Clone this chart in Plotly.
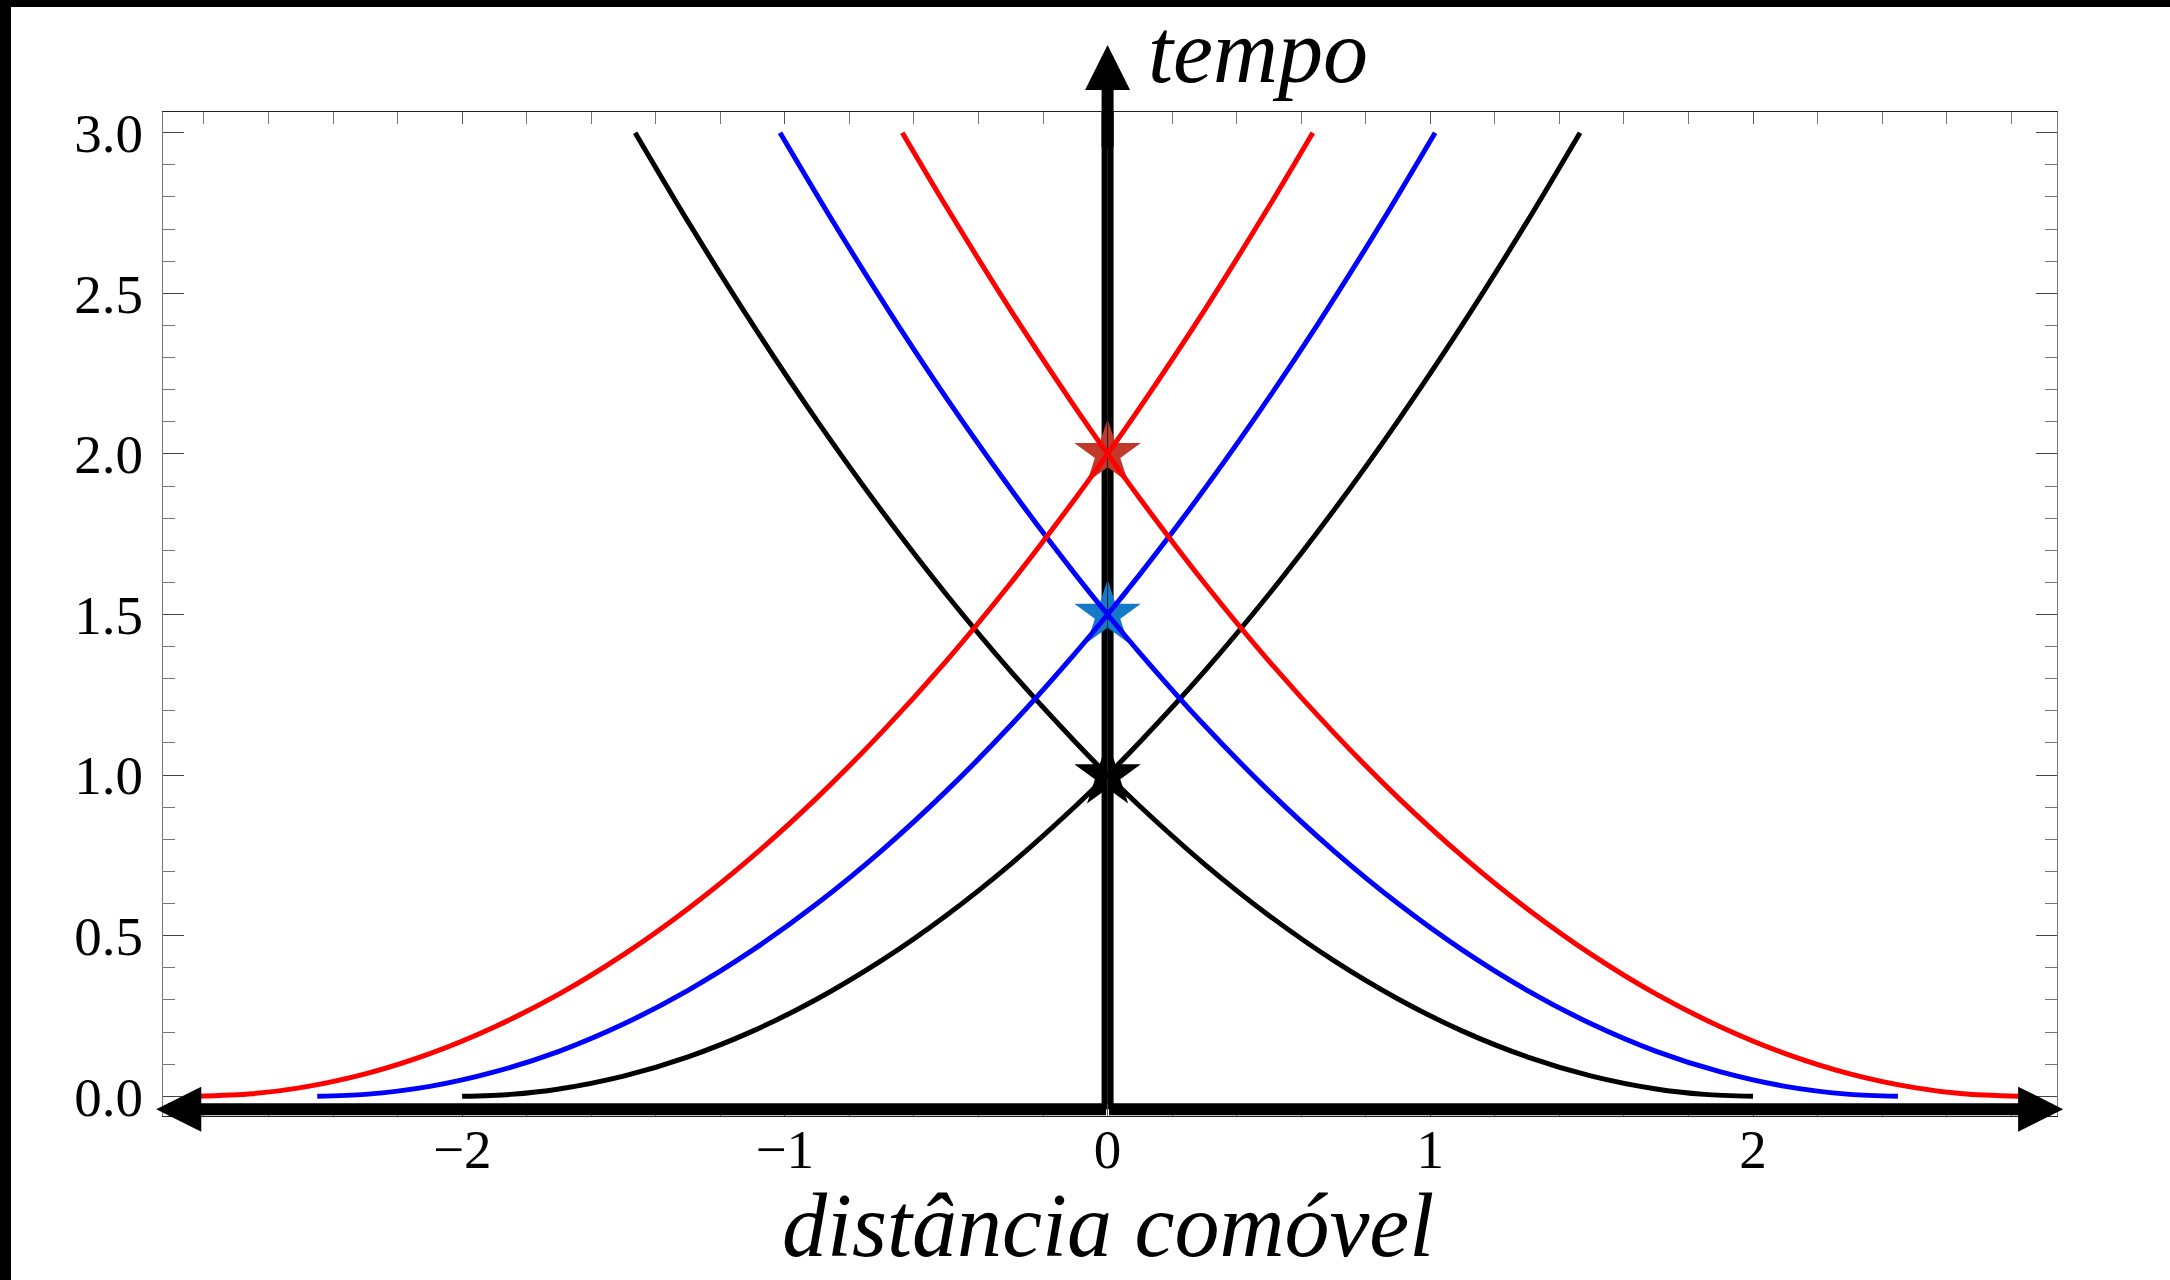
import plotly.graph_objects as go

# Past light cones in a radiation-dominated universe: comoving distance (chi)
# against cosmic time for three observers at chi = 0. Each list holds one branch;
# the other branch is its mirror image about chi = 0.
chi_black = [-1.464, -1.3, -1.1, -0.9, -0.7, -0.5, -0.3, -0.1, 0.0, 0.1, 0.3, 0.5, 0.7,
             0.9, 1.1, 1.3, 1.5, 1.7, 1.85, 2.0]
t_black = [3.0, 2.723, 2.403, 2.103, 1.823, 1.563, 1.323, 1.103, 1.0, 0.903, 0.723, 0.563,
           0.423, 0.303, 0.203, 0.123, 0.063, 0.023, 0.006, 0.0]

chi_blue = [-1.015, -0.85, -0.65, -0.45, -0.25, -0.1, 0.0, 0.1, 0.3, 0.5, 0.7, 0.9, 1.1,
            1.3, 1.5, 1.7, 1.9, 2.1, 2.3, 2.449]
t_blue = [3.0, 2.722, 2.402, 2.102, 1.822, 1.625, 1.5, 1.380, 1.155, 0.950, 0.765, 0.600,
          0.455, 0.330, 0.225, 0.140, 0.076, 0.031, 0.006, 0.0]

chi_red = [-0.636, -0.5, -0.3, -0.1, 0.0, 0.1, 0.3, 0.5, 0.7, 0.9, 1.1, 1.3, 1.5, 1.7,
           1.9, 2.1, 2.3, 2.5, 2.65, 2.828]
t_red = [3.0, 2.770, 2.447, 2.144, 2.0, 1.861, 1.598, 1.355, 1.133, 0.930, 0.747, 0.584,
         0.441, 0.318, 0.216, 0.133, 0.070, 0.027, 0.008, 0.0]

# observation events (apex of each cone)
event_chi = [0.0, 0.0, 0.0]
event_t = [2.0, 1.5, 1.0]
event_colors = ["#C0392B", "#1479C9", "#000000"]

x_ticks = [-2, -1, 0, 1, 2]
y_ticks = [0.0, 0.5, 1.0, 1.5, 2.0, 2.5, 3.0]

x_range = [-2.927, 2.942]
y_range = [-0.0613, 3.0644]
axis_y = -0.04          # height of the horizontal (distance) arrow
dist_arrow_tips = [-2.948, 2.961]
time_arrow_tip = 3.273  # tip of the vertical (time) arrow

SERIF = "Liberation Serif"

fig = go.Figure()

# shaft of the time arrow (below the stars and the cones)
fig.add_trace(go.Scatter(x=[0, 0], y=[axis_y, y_range[1] + 0.05], mode="lines",
                         line=dict(color="black", width=12), hoverinfo="skip", showlegend=False))

# observation events
fig.add_trace(go.Scatter(x=event_chi, y=event_t, mode="markers",
                         marker=dict(symbol="star", size=50, color=event_colors, line=dict(width=0)),
                         hoverinfo="skip", showlegend=False))
fig.add_trace(go.Scatter(x=[0, 0], y=[axis_y, y_range[1]], mode="lines",
                         line=dict(color="#222222", width=1), hoverinfo="skip", showlegend=False))

# light cones
for chi, t, color in [(chi_black, t_black, "black"),
                      (chi_blue, t_blue, "#0000FF"),
                      (chi_red, t_red, "#FF0000")]:
    for sign in (1, -1):
        fig.add_trace(go.Scatter(x=[sign * c for c in chi], y=t, mode="lines",
                                 line=dict(color=color, width=5, shape="spline", smoothing=0.8),
                                 hoverinfo="skip", showlegend=False))

# arrows: horizontal distance axis (one from the origin to each end) and the time axis head
for tip in dist_arrow_tips:
    fig.add_annotation(x=tip, y=axis_y, ax=0, ay=axis_y, xref="x", yref="y",
                       axref="x", ayref="y", text="", showarrow=True,
                       arrowhead=2, arrowsize=0.75, arrowwidth=12, arrowcolor="black")
fig.add_annotation(x=0, y=time_arrow_tip, ax=0, ay=2.95, xref="x", yref="y",
                   axref="x", ayref="y", text="", showarrow=True,
                   arrowhead=2, arrowsize=0.75, arrowwidth=12, arrowcolor="black")

# dark border strips along the top and left edges of the figure
W, H = 2170, 1280
ml, mr, mt, mb = 163, 113, 112, 164
pw, ph = W - ml - mr, H - mt - mb


def px_to_paper(px, py):
    return (px - ml) / pw, (H - mb - py) / ph


# axis captions
fig.add_annotation(x=0.12, y=px_to_paper(0, 51)[1], xref="x", yref="paper", text="tempo",
                   showarrow=False, xanchor="left", yanchor="middle",
                   font=dict(family=SERIF, size=90, color="black", style="italic"))
fig.add_annotation(x=0, y=px_to_paper(0, 1225)[1], xref="x", yref="paper",
                   text="distância comóvel", showarrow=False, xanchor="center", yanchor="middle",
                   font=dict(family=SERIF, size=90, color="black", style="italic"))

x0, y0 = px_to_paper(0, H)
x1, y1 = px_to_paper(11, 0)
fig.add_shape(type="rect", xref="paper", yref="paper", x0=x0, y0=y0, x1=x1, y1=y1,
              fillcolor="black", line=dict(width=0), layer="above")
x0, y0 = px_to_paper(0, 7)
x1, y1 = px_to_paper(W, 0)
fig.add_shape(type="rect", xref="paper", yref="paper", x0=x0, y0=y0, x1=x1, y1=y1,
              fillcolor="black", line=dict(width=0), layer="above")

tick_font = dict(family=SERIF, size=55, color="black")
fig.update_xaxes(range=x_range, tickvals=x_ticks, ticks="inside", ticklen=12, tickwidth=1,
                 tickcolor="#555555", showline=True, linecolor="#222222", linewidth=1,
                 mirror="ticks", showgrid=False, zeroline=False, tickfont=tick_font,
                 ticklabelstandoff=-15,
                 minor=dict(dtick=0.2, tick0=0, ticks="inside", ticklen=12, tickwidth=1,
                            tickcolor="#777777", showgrid=False))
fig.update_yaxes(range=y_range, tickvals=y_ticks, tickformat=".1f", ticks="inside", ticklen=21,
                 tickwidth=1, tickcolor="#444444", showline=True, linecolor="#777777",
                 linewidth=1, mirror="ticks", showgrid=False, zeroline=False, tickfont=tick_font,
                 ticklabelstandoff=8,
                 minor=dict(dtick=0.1, tick0=0, ticks="inside", ticklen=12, tickwidth=1,
                            tickcolor="#777777", showgrid=False))

fig.update_layout(width=W, height=H, autosize=False,
                  margin=dict(l=ml, r=mr, t=mt, b=mb, pad=0),
                  paper_bgcolor="white", plot_bgcolor="white", showlegend=False)

fig.write_html("out.html")
